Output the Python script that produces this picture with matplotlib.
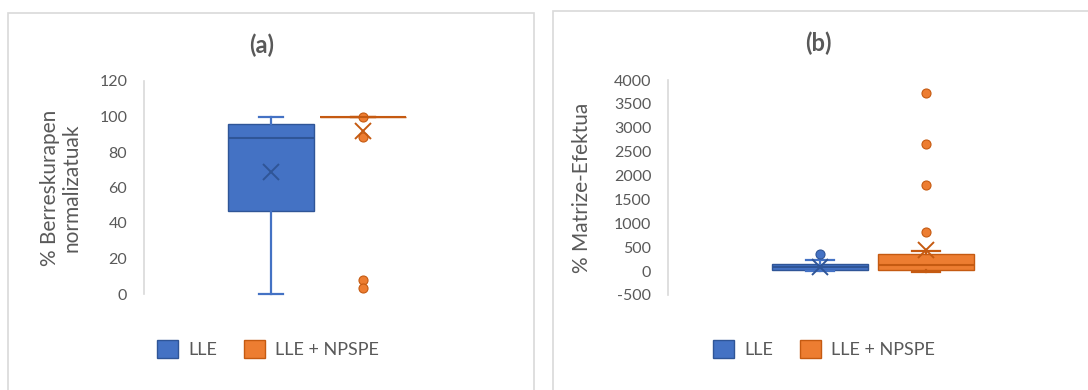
import matplotlib.pyplot as plt
from matplotlib.patches import Patch, Rectangle

plt.rcParams['font.family'] = ['Lato', 'DejaVu Sans']
plt.rcParams['axes.unicode_minus'] = False

# --- Data (box statistics per group) ---
groups = ["LLE", "LLE + NPSPE"]

# (a) normalised recoveries
rec_q1 = [47, 100]
rec_med = [88, 100]
rec_q3 = [96, 100]
rec_lo = [0, 100]
rec_hi = [100, 100]
rec_mean = [69, 92]
rec_fliers = [[], [100, 88.5, 8, 3.5]]

# (b) matrix effect
me_q1 = [25, 20]
me_med = [80, 125]
me_q3 = [150, 355]
me_lo = [10, -15]
me_hi = [230, 430]
me_mean = [90, 450]
me_fliers = [[355], [3720, 2650, 1800, 820]]

rec_ticks = [0, 20, 40, 60, 80, 100, 120]
me_ticks = [-500, 0, 500, 1000, 1500, 2000, 2500, 3000, 3500, 4000]

fills = ["#4472C4", "#ED7D31"]
edges = ["#2F5597", "#C55A11"]
grey = "#595959"
light = "#D9D9D9"

W, H = 1088, 390
fig = plt.figure(figsize=(W / 100, H / 100), dpi=100)

# panel frames
for x0, x1, y0 in [(8, 534, 12.5), (553, 1095, 10.5)]:
    fig.add_artist(Rectangle((x0 / W, -0.05), (x1 - x0) / W, (H - y0) / H + 0.05,
                             transform=fig.transFigure, fill=False,
                             edgecolor=light, lw=1.2))


def px_axes(left, right, top, bottom):
    return fig.add_axes([left / W, (H - bottom) / H, (right - left) / W, (bottom - top) / H])


def draw_panel(ax, q1, med, q3, lo, hi, mean, fliers, width, capw, ylabel):
    for i in range(2):
        st = [dict(q1=q1[i], med=med[i], q3=q3[i], whislo=lo[i], whishi=hi[i],
                   mean=mean[i], fliers=fliers[i])]
        parts = ax.bxp(st, positions=[i + 1], widths=width, capwidths=capw,
                       patch_artist=True, showmeans=True,
                       boxprops=dict(facecolor=fills[i], edgecolor=edges[i], lw=1.0),
                       medianprops=dict(color=edges[i], lw=1.5),
                       whiskerprops=dict(color=fills[i] if i == 0 else edges[i], lw=1.6),
                       capprops=dict(color=fills[i] if i == 0 else edges[i], lw=1.6),
                       meanprops=dict(marker='x', markersize=11, markeredgecolor=edges[i],
                                      markeredgewidth=1.4),
                       flierprops=dict(marker='o', markersize=6.5, markerfacecolor=fills[i],
                                       markeredgecolor=edges[i], markeredgewidth=0.8))
        for arts in parts.values():
            for a in arts:
                a.set_clip_on(False)
    for s in ['top', 'right', 'bottom']:
        ax.spines[s].set_visible(False)
    ax.spines['left'].set_color(light)
    ax.spines['left'].set_linewidth(1.2)
    ax.set_xticks([])
    ax.tick_params(axis='y', length=0, labelsize=11.5, labelcolor=grey, pad=12)
    ax.set_ylabel(ylabel, fontsize=15, color=grey, linespacing=1.1)


# (a)
ax1 = px_axes(144, 490, 81, 294)
draw_panel(ax1, rec_q1, rec_med, rec_q3, rec_lo, rec_hi, rec_mean, rec_fliers,
           0.935, 0.27, "% Berreskurapen\nnormalizatuak")
ax1.set_ylim(0, 120)
ax1.set_yticks(rec_ticks)
ax1.set_xlim(-0.38, 3.38)
ax1.yaxis.set_label_coords(-0.18, 0.5)

# (b)
ax2 = px_axes(668, 1078, 80, 295)
draw_panel(ax2, me_q1, me_med, me_q3, me_lo, me_hi, me_mean, me_fliers,
           0.915, 0.26, "% Matrize-Efektua")
ax2.set_ylim(-500, 4000)
ax2.set_yticks(me_ticks)
ax2.set_xlim(-0.434, 3.434)
ax2.yaxis.set_label_coords(-0.185, 0.5)

# panel titles
for label, cx, cy in [("(a)", 262, 45), ("(b)", 818, 43)]:
    fig.text(cx / W, (H - cy) / H, label, ha='center', va='center',
             fontsize=17, fontweight='bold', color=grey)

# legends
for cx in [268 / W, 824 / W]:
    handles = [Patch(facecolor=fills[i], edgecolor=edges[i], lw=1.0, label=groups[i])
               for i in range(2)]
    fig.legend(handles=handles, loc='center', bbox_to_anchor=(cx, (H - 349) / H),
               ncol=2, frameon=False, fontsize=13, labelcolor=grey,
               handlelength=1.15, handleheight=1.15, handletextpad=0.55,
               columnspacing=1.5)

fig.savefig("out.png", dpi=100)
